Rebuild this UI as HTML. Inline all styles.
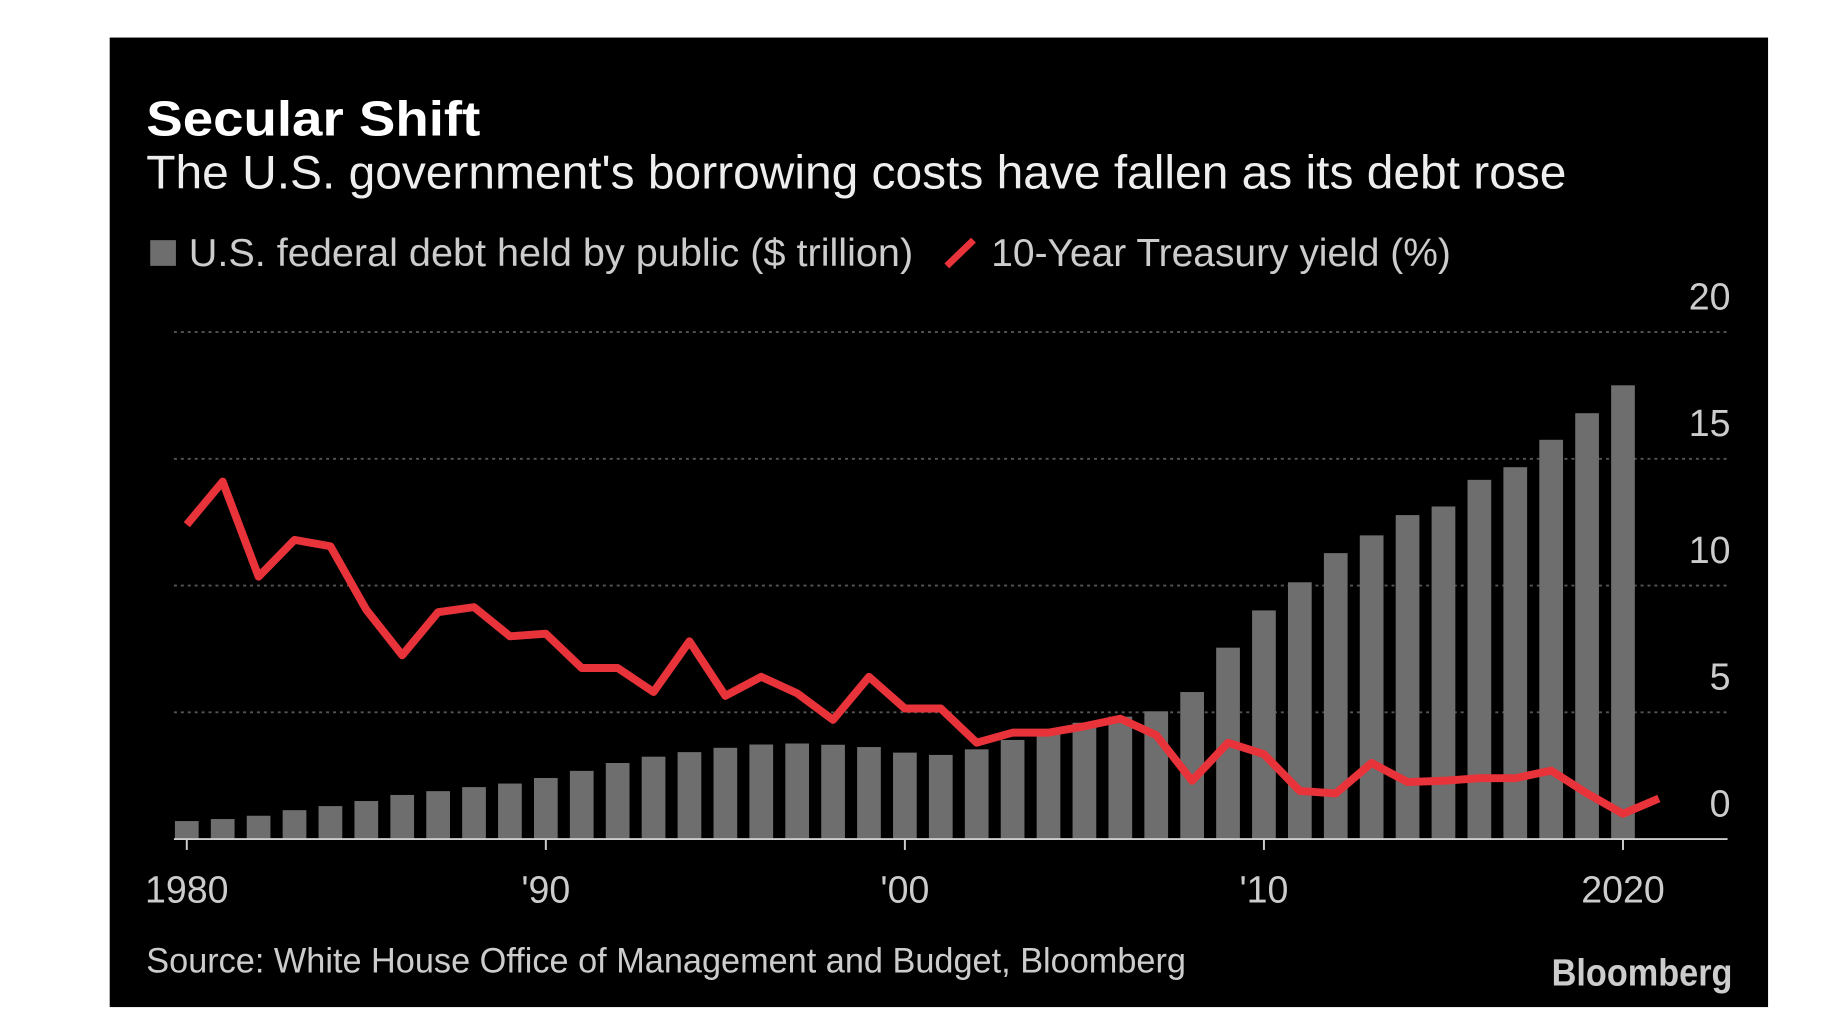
<!DOCTYPE html>
<html><head><meta charset="utf-8"><style>
html,body{margin:0;padding:0;background:#fff;width:1846px;height:1034px;overflow:hidden}
svg{display:block;font-family:"Liberation Sans",sans-serif}
</style></head><body>
<svg id="chart" width="1846" height="1034">
<g transform="scale(0.9883)">
<rect x="111" y="38" width="1678" height="981" fill="#000"/>
<text x="148" y="137" fill="#fff" font-size="50" font-weight="bold" textLength="338" lengthAdjust="spacingAndGlyphs">Secular Shift</text>
<text x="148" y="191" fill="#eee" font-size="48" textLength="1437" lengthAdjust="spacingAndGlyphs">The U.S. government's borrowing costs have fallen as its debt rose</text>
<g>
<rect x="152" y="243" width="26" height="26" fill="#6e6e6e"/>
<text x="191" y="269" fill="#ccc" font-size="39" textLength="733" lengthAdjust="spacingAndGlyphs">U.S. federal debt held by public ($ trillion)</text>
<line x1="958" y1="269" x2="985" y2="243" stroke="#e8333a" stroke-width="7"/>
<text x="1003" y="269" fill="#ccc" font-size="39" textLength="465" lengthAdjust="spacingAndGlyphs">10-Year Treasury yield (%)</text>
</g>
<g id="grid"></g><g id="bars"></g><g id="line"></g><g id="axes"></g>
<text x="148" y="984" fill="#ccc" font-size="36" textLength="1052" lengthAdjust="spacingAndGlyphs">Source: White House Office of Management and Budget, Bloomberg</text>
<text x="1570" y="997" fill="#ccc" font-size="38" font-weight="bold" textLength="183" lengthAdjust="spacingAndGlyphs">Bloomberg</text>
</g>
</svg>
<script>
const years=[1980,1981,1982,1983,1984,1985,1986,1987,1988,1989,1990,1991,1992,1993,1994,1995,1996,1997,1998,1999,2000,2001,2002,2003,2004,2005,2006,2007,2008,2009,2010,2011,2012,2013,2014,2015,2016,2017,2018,2019,2020];
const debt=[0.71,0.79,0.92,1.14,1.30,1.50,1.74,1.89,2.05,2.19,2.41,2.69,3.00,3.25,3.43,3.60,3.73,3.77,3.72,3.63,3.41,3.32,3.54,3.91,4.30,4.59,4.83,5.04,5.80,7.55,9.02,10.13,11.28,11.98,12.78,13.12,14.17,14.67,15.75,16.80,17.90];
const yieldYears=[1980,1981,1982,1983,1984,1985,1986,1987,1988,1989,1990,1991,1992,1993,1994,1995,1996,1997,1998,1999,2000,2001,2002,2003,2004,2005,2006,2007,2008,2009,2010,2011,2012,2013,2014,2015,2016,2017,2018,2019,2020,2021];
const yields=[12.4,14.1,10.35,11.8,11.55,9.05,7.25,8.95,9.15,8.0,8.1,6.75,6.75,5.8,7.8,5.65,6.4,5.75,4.7,6.4,5.15,5.15,3.8,4.2,4.2,4.45,4.75,4.1,2.3,3.8,3.35,1.9,1.8,3.0,2.25,2.3,2.4,2.4,2.7,1.8,1.0,1.6];
const yTicks=[0,5,10,15,20];
const xTickYears=[1980,1990,2000,2010,2020];
const xTickLabels=['1980',"'90","'00","'10",'2020'];
const NS='http://www.w3.org/2000/svg';
const X=y=>189+(y-1980)*36.33;
const Y=v=>849-v*25.65;
function mk(tag,attrs,parent){const e=document.createElementNS(NS,tag);for(const k in attrs)e.setAttribute(k,attrs[k]);document.getElementById(parent).appendChild(e);return e;}
yTicks.forEach(t=>{
  if(t>0){const g=mk('line',{x1:176,x2:1748,y1:Y(t),y2:Y(t),stroke:'#555','stroke-width':2,'stroke-dasharray':'3,4'},'grid');
  
  }
  const l=mk('text',{x:1751,y:Y(t)-23,fill:'#ccc','font-size':38,'text-anchor':'end'},'axes');l.textContent=t;
  
  
});
debt.forEach((d,i)=>{
  const b=mk('rect',{x:X(years[i])-12,y:Y(d),width:24,height:849-Y(d),fill:'#6e6e6e'},'bars');
  
  
});
const pts=yields.map((v,i)=>X(yieldYears[i]).toFixed(1)+','+Y(v).toFixed(1)).join(' ');
const pl=mk('polyline',{points:pts,fill:'none',stroke:'#e8333a','stroke-width':8,'stroke-linejoin':'round'},'line');


const base=mk('line',{x1:176,x2:1748,y1:849,y2:849,stroke:'#ccc','stroke-width':2},'axes');


xTickYears.forEach((yr,i)=>{
  const t=mk('line',{x1:X(yr),x2:X(yr),y1:849,y2:860,stroke:'#ccc','stroke-width':2},'axes');
  
  
  const l=mk('text',{x:X(yr),y:913,fill:'#ccc','font-size':38,'text-anchor':'middle'},'axes');l.textContent=xTickLabels[i];
  
  
});
</script>
</body></html>
